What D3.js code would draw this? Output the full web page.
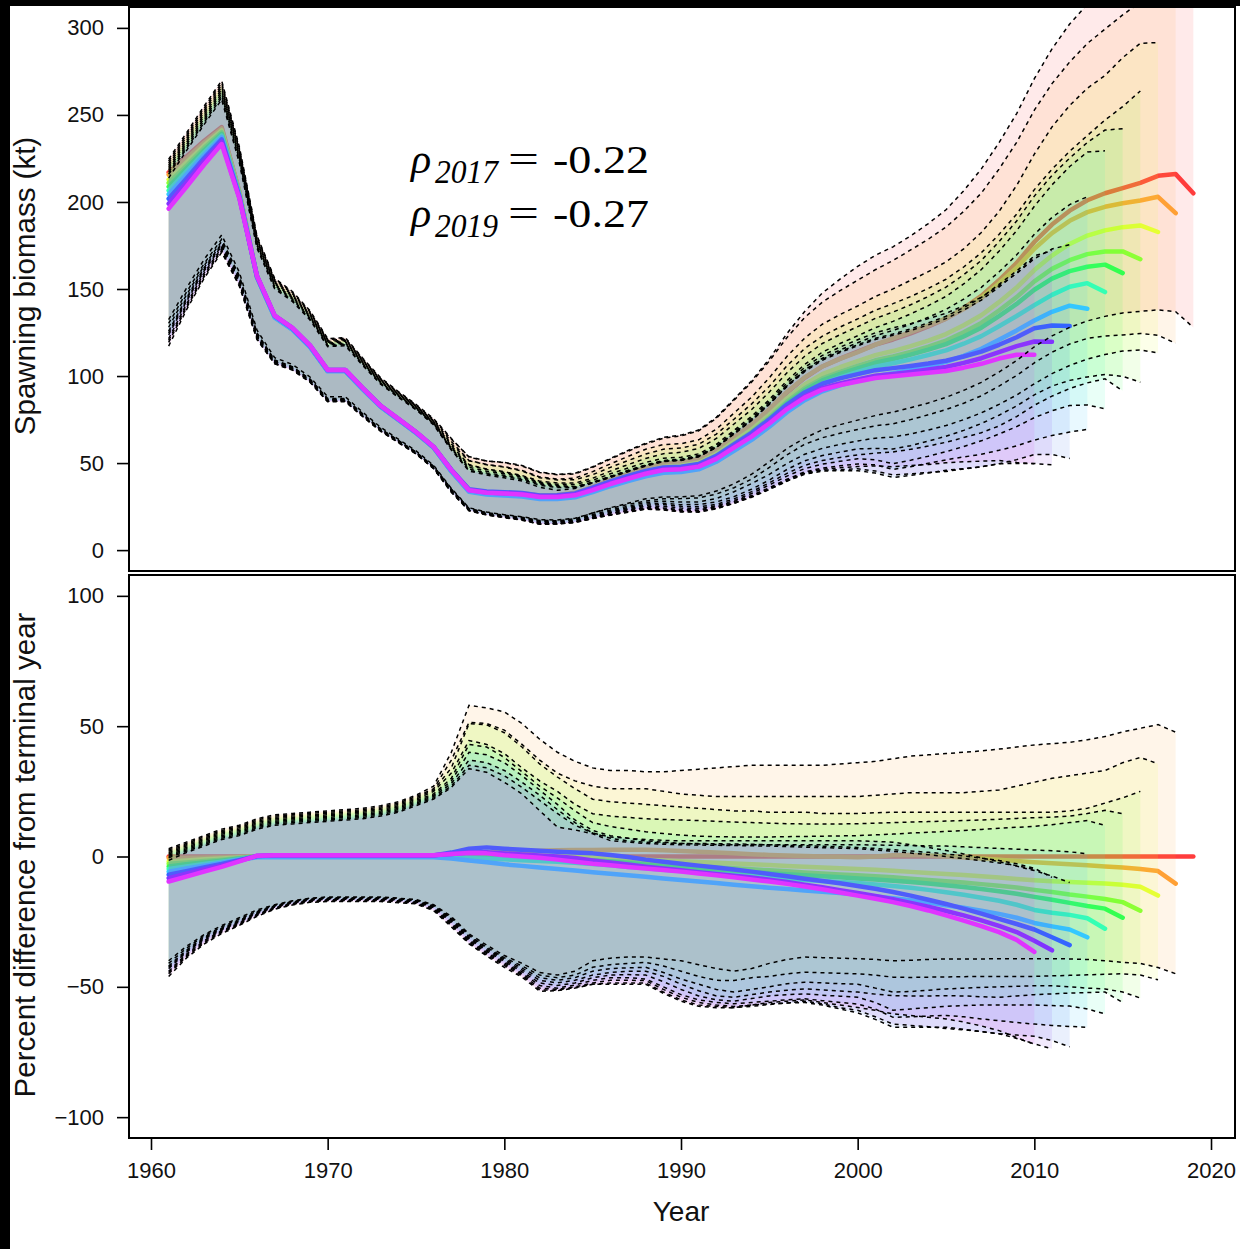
<!DOCTYPE html>
<html><head><meta charset="utf-8">
<script src="https://cdn.jsdelivr.net/npm/d3@7"></script>
<style>body{margin:0;background:#fff;} svg{display:block;}</style>
</head><body><svg id="c" width="1240" height="1249"></svg>
<script>
// ---------------- DATA ----------------
const startYear = 1961;
const xTicks = [1960, 1970, 1980, 1990, 2000, 2010, 2020];
const yTicksTop = [0, 50, 100, 150, 200, 250, 300];
const yTicksBottom = [-100, -50, 0, 50, 100];
const peelYears = [2019, 2018, 2017, 2016, 2015, 2014, 2013, 2012, 2011, 2010];
const peelColors = ["#FF3C3C","#FFA034","#E6FF34","#8CFF34","#34FF50","#34FFB4","#34C8FF","#3464FF","#8034FF","#E034FF"];
const peelFills  = ["#FF3C3C","#FFA034","#E6FF34","#8CFF34","#34FF50","#34FFB4","#34C8FF","#3C78F0","#8C3CF0","#E03CF0"];
const rhoYears = ["2017", "2019"];
const rhoValues = ["-0.22", "-0.27"];

// terminal-year (2019) spawning biomass, kt, 1961-2019
const terminalSB = [217,226,235,243,206,157,134,127,117,103,103,92.5,82.5,75,67.5,59,45.5,34,32.6,32.3,32,30.7,30.9,32.1,35.5,39.3,42.7,46,48.5,49.3,51.3,56.5,64,71.5,80.5,90.5,99,105.5,110,114,118,121,124.5,128.5,133,139,146,155,165,177,187,195,201,205,208,211,215,216,205];

// peel estimates, % difference from terminal year, from 1961
const est2018 = [-0.6,-0.5,-0.4,-0.3,-0.1,0, 0.2,0.2,0.2,0.2,0.2,0.2,0.2,0.2,0.2,0.2, 0.6,1.0,1.4,1.8,2.0,2.2,2.4,2.5,2.5,2.6,2.6,2.6,2.4,2.1, 1.8,1.5,1.2,0.9,0.6,0.4,0.2,0,-0.1,-0.3, 0,0.5,0.6,0.4,0,-0.4,-0.8,-1.2,-1.7,-2.2, -2.6,-3.0,-3.4,-3.8,-4.2,-4.8,-5.6,-10.4];
const est2017 = [-1.9,-1.5,-1.1,-0.8,-0.4,0, 0.1,0.1,0.1,0.1,0.1,0.1,0.1,0.1,0.1,0.1, 0.3,0.5,0.6,0.6,0.5,0.4,0.2,0,-0.3,-0.6,-0.9,-1.2,-1.5,-1.8, -2.1,-2.4,-2.7,-3.0,-3.3,-3.6,-3.9,-4.2,-4.5,-4.8, -5.1,-5.5,-5.9,-6.3,-6.7,-7.1,-7.6,-8.1,-8.6,-9.1, -9.5,-9.8,-10.1,-10.4,-10.8,-11.6,-15];
const est2016 = [-2.8,-2.3,-1.7,-1.2,-0.6,0, 0.1,0.1,0.1,0.1,0.1,0.1,0.1,0.1,0.1,0.1, 0.1,0,-0.2,-0.4,-0.6,-0.8,-1.0,-1.2,-1.5,-1.8,-2.1,-2.5,-2.9,-3.3, -3.7,-4.1,-4.5,-4.9,-5.3,-5.7,-6.1,-6.5,-6.9,-7.2, -7.6,-8.0,-8.5,-9.0,-9.5,-10.0,-10.6,-11.2,-11.9,-12.8, -13.6,-14.6,-15.4,-16.3,-17.5,-20.8];
const est2015 = [-3.8,-3.0,-2.3,-1.6,-0.8,0, 0,0,0,0,0,0,0,0,0,0, 0,-0.2,-0.4,-0.5,-0.7,-0.9,-1.1,-1.2,-1.4,-1.9,-2.5,-3.2,-3.8,-4.3, -4.8,-5.3,-5.7,-6.1,-6.4,-6.8,-7.2,-7.6,-8.0,-8.4, -8.8,-9.3,-9.8,-10.4,-11.0,-11.7,-12.5,-13.3,-14.3,-15.5, -16.6,-17.8,-19.0,-20.0,-23.5];
const est2014 = [-4.8,-3.8,-2.9,-2.0,-1.0,0, 0,0,0,0,0,0,0,0,0,0, -0.3,-0.6,-0.9,-1.1,-1.4,-1.7,-2.0,-2.4,-2.9,-3.4,-4.0,-4.5,-5.1,-5.6, -6.1,-6.6,-7.1,-7.6,-8.2,-8.6,-9.0,-9.4,-9.8,-10.2, -10.7,-11.3,-12.0,-12.8,-13.7,-14.7,-15.8,-17.0,-18.5,-20.5, -21.6,-22.4,-23.7,-27.7];
const est2013 = [-5.8,-4.6,-3.5,-2.4,-1.2,-0.3, -0.3,-0.3,-0.3,-0.3,-0.3,-0.3,-0.3,-0.3,-0.3,-0.3, -0.8,-1.5,-2.2,-3.0,-3.6,-4.2,-4.8,-5.4,-6.0,-6.6,-7.2,-7.8,-8.4,-9.0, -9.6,-10.2,-10.8,-11.4,-12.0,-12.5,-13.0,-13.5,-14.0,-14.6, -15.3,-16.0,-16.8,-17.7,-18.7,-19.7,-20.8,-22.0,-23.5,-25.5, -26.8,-28.0,-31.0];
const est2012 = [-7.0,-5.6,-4.2,-2.9,-1.4,0.2, 0.4,0.4,0.4,0.4,0.4,0.4,0.4,0.4,0.4,0.4, 1.5,3.0,3.5,3.0,2.6,2.2,1.8,1.5,1.2,0.6,-0.2,-1.2,-2.0,-2.8, -3.5,-4.2,-5.0,-5.8,-6.7,-7.6,-8.5,-9.4,-10.3,-11.3, -12.4,-13.6,-15.0,-16.6,-18.2,-20.0,-21.9,-23.9,-25.9,-28.0, -31.0,-34.0];
const est2011 = [-8.3,-6.6,-5.0,-3.5,-1.7,0.2, 0.5,0.5,0.5,0.5,0.5,0.5,0.5,0.5,0.5,0.5, 1.0,1.5,1.6,1.2,0.8,0.4,0,-0.6,-1.5,-2.3,-3.1,-3.9,-4.6,-5.3, -6.0,-6.7,-7.4,-8.1,-8.9,-9.8,-10.8,-11.8,-12.9,-14.0, -15.1,-16.4,-17.8,-19.3,-20.9,-22.6,-24.5,-26.6,-29.0,-32.3, -36.0];
const est2010 = [-9.6,-7.7,-5.8,-4.0,-1.9,0.3, 0.5,0.5,0.5,0.5,0.5,0.5,0.5,0.5,0.5,0.5, 1.0,1.3,1.2,0.5,0,-0.5,-1.2,-2.0,-2.8,-3.4,-4.0,-4.6,-5.2,-5.8, -6.5,-7.2,-8.0,-8.8,-9.6,-10.5,-11.5,-12.6,-13.8,-15.0, -16.2,-17.5,-19.0,-20.7,-22.6,-24.6,-26.7,-29.0,-32.0,-36.6];

// upper interval bounds, % of terminal-year estimate
const hi2019 = [3.5,6,8.5,11,12.5,15,16.5,17,17.5,18,18.5,19,20,21.5,24,28, 41,57,57,56,52,46,41,37.5,35,34,34,33.5,33.5,34, 34.5,35,35.5,36,36.5,37.5,38.5,40,41.5,43, 43.5,44,45,46,47,48.5,50,51,52,53, 54,55,56,57,58,59,60,61,62];
const hi2018 = [3,5.5,8,10.5,12,14.5,16,16.5,17,17.5,18,18.5,19.5,21,23.5,27, 40,58,57,55.5,51,45,40,36.5,34,33,33,32.5,32.5,33, 33.5,34,34.5,35,35,35,35,35,35.5,36, 36.5,37.5,38.5,39,39.5,40,40.5,41.2,42,42.8, 43.3,43.8,44.8,46,47.8,49.2,50.6,47.7];
const hi2017 = [2.5,5,7.5,10,11.5,14,15.5,16,16.5,17,17.5,18,19,20.5,23,26, 37,51.5,51,48.5,43,37,32,29,27,26,26,26,25,24, 23.5,23,23,23,23,23,23,23,23,23, 23.5,24,24.5,24.5,24.5,24.5,25,25.5,27,28.5, 30,31,32,33,36,38,35.6];
const hi2016 = [2,4.5,7,9.5,11,13.5,15,15.5,16,16.5,17,17.5,18.5,20,22.5,25.5, 34,51,50.5,47.5,42,35.5,30.5,26,22,21,20.5,20,19.5,19, 18.5,18,17.5,17.5,17,17,17,16.5,16.5,16.5, 16.8,17,17,17,17,17,17,17,17,17, 17,17.5,18.5,20.5,22.5,25];
const hi2015 = [1.5,4,6.5,9,10.5,13,14.5,15,15.5,16,16.5,17,18,19.5,22,25, 32,44.5,43,39.5,34,29,25,20,16.4,15.5,15,14.5,14.2,14, 13.8,13.5,13.2,13,12.8,12.6,12.5,12.5,12.5,12.6, 12.8,13,13.2,13.4,13.6,13.8,14,14.3,14.6,14.9, 15.1,15.5,16.5,17.7,16.4];
const hi2014 = [1,3.5,6,8.5,10,12.5,14,14.5,15,15.5,16,16.5,17.5,19,21.5,24, 30,43,42,38,32.5,27,22.5,17.5,13,11.5,10.5,9.5,8.8,8.2, 7.8,7.6,7.5,7.5,7.5,7.6,7.7,7.8,7.9,8, 8.3,8.6,9,9.3,9.6,10,10.4,10.8,11.2,11.6, 12.2,13,13.8,11.9];
const hi2013 = [0.5,3,5.5,8,9.5,12,13.5,14,14.5,15,15.5,16,17,18.5,21,23.5, 29,40,39,36,31,25.5,20,14,10,8,7,6,5.5,5, 4.8,4.6,4.5,4.5,4.5,4.5,4.5,4.5,4.5,4.5, 4.4,4.3,4.2,4.1,4,3.7,3.4,3.1,2.8,2.5, 2.2,1.8,1];
const hi2012 = [0,2.5,5,7.5,9,11.5,13,13.5,14,14.5,15,15.5,16.5,18,20.5,23, 28,37,36,33,28.5,23.5,18,13,9,7.5,7,6.5,6.2,6, 6,6,6,6,6,6,6,6,6,6, 5.8,5.5,4.5,3.5,2.3,1,-0.5,-2,-3.7,-5.4, -7.5,-10];
const hi2011 = [-0.5,2,4.5,7,8.5,11,12.5,13,13.5,14,14.5,15,16,17.5,20,22.5, 27,35,34,31,26.5,21.5,16.5,12,9,7,6,5.5,5.2,5, 5,4.9,4.8,4.7,4.5,4.3,4.1,3.9,3.7,3.5, 3.1,2.6,2.1,1.6,1,0.2,-0.6,-1.5,-2.8,-4.5, -8];
const hi2010 = [-1.5,1.5,4,6.5,8,10.5,12,12.5,13,13.5,14,14.5,15.5,17,19.5,22, 26.5,33.7,32.3,28.5,24,17.6,11.3,10.2,8.7,6.1,5.5,5,4.7,4.5, 4.4,4.3,4.2,4.1,4,3.8,3.6,3.4,3.2,3, 2.5,2,1.3,0.7,0,-0.8,-1.6,-2.5,-3.5,-5];

// lower interval bounds, % of terminal-year estimate
const lo2019 = [-39,-33.5,-29,-25.5,-22.5,-19.5,-17.5,-16,-15,-14.5,-14.5,-14.5,-14.5,-15,-15.5,-17.5, -22,-28.5,-33,-37,-40,-43,-44,-43,-40,-38,-37,-36,-37,-38, -39,-40,-40.5,-39,-37,-35.5,-35,-34.5,-34.5,-34.5, -34.5,-34.5,-34.3,-34.2,-34,-34,-34,-34,-34,-34, -34.2,-34.4,-34.5,-34.5,-34.5,-35,-35.8,-36.6,-37.6];
const lo2018 = [-40,-34.5,-30,-26.5,-23.5,-20.5,-18.5,-17,-16,-15.5,-15.5,-15.5,-15.5,-16,-16.5,-18.5, -23,-29.7,-34,-38,-41,-44.5,-45.5,-44,-40,-39,-38.6,-38.6,-39.3,-40, -41.5,-43,-44,-43,-41,-39.5,-38.6,-38.8,-39,-39.2, -39.5,-40,-39.8,-39.5,-39.3,-39.3,-39.3,-39.2,-39.2,-39.2, -39.2,-39.3,-39.5,-40,-40.6,-41,-42.6,-45];
const lo2017 = [-41,-35.2,-30.5,-27,-24,-21,-18.8,-17.2,-16.2,-15.8,-15.8,-15.8,-15.8,-16.2,-16.8,-18.8, -23.5,-30.2,-34.8,-38.8,-42,-45.5,-46.5,-45.5,-42.5,-41.5,-41,-40.6,-42,-44, -46,-47.5,-47.6,-46.5,-46,-45,-44.4,-44.6,-44.8,-45, -45.5,-46.3,-46.4,-46.3,-46.2,-46.1,-46,-46,-46,-46, -45.8,-45.6,-45.4,-45.2,-45,-45.5,-47.3];
const lo2016 = [-42,-36,-31,-27.5,-24.5,-21.3,-19,-17.4,-16.4,-16,-16,-16,-16,-16.4,-17,-19, -24,-30.7,-35.3,-39.3,-42.8,-46.5,-47.5,-46.5,-44,-43,-42.7,-42.5,-44.5,-47, -49,-51,-52,-51,-50,-48.8,-48.2,-48.5,-48.8,-49, -50.5,-52,-51.8,-51.3,-50.8,-50.5,-50.2,-50,-49.8,-49.6, -49.6,-50,-50.5,-50.8,-52,-54.3];
const lo2015 = [-42.5,-36.4,-31.4,-27.8,-24.8,-21.6,-19.2,-17.6,-16.6,-16.2,-16.2,-16.2,-16.2,-16.6,-17.2,-19.3, -24.5,-31.2,-35.8,-39.8,-43.5,-47.5,-48.5,-47.5,-45.5,-44.5,-44,-44,-46,-49, -51.5,-53.5,-54,-53,-52,-51.3,-50.8,-51.2,-51.6,-52, -52.8,-53.4,-53.5,-53.5,-53.4,-53.5,-53.8,-54,-53.5,-53, -52.7,-52.4,-52.2,-52,-56];
const lo2014 = [-43,-36.8,-31.8,-28.1,-25.1,-21.9,-19.4,-17.8,-16.8,-16.4,-16.4,-16.4,-16.4,-16.8,-17.4,-19.6, -25,-31.7,-36.3,-40.3,-44.2,-48.5,-49.5,-48.5,-46.5,-45.5,-45.3,-45.5,-48,-51, -53.5,-55,-55.5,-54.5,-53.5,-53,-52.7,-53.2,-53.6,-54, -56,-59,-58.5,-58,-57.5,-57.2,-57,-57,-57,-57, -57.2,-57.4,-58.5,-60.4];
const lo2013 = [-44,-37.5,-32.3,-28.5,-25.5,-22.2,-19.6,-18,-17,-16.6,-16.6,-16.6,-16.6,-17,-17.6,-19.9, -25.5,-32.2,-36.8,-40.8,-44.8,-49.5,-50.5,-49.3,-47.5,-46.5,-46.5,-47,-50,-53, -55,-56,-56.5,-56,-55.5,-55,-54.6,-55.3,-56,-56.6, -58.5,-61.7,-61.5,-61.2,-61,-61.5,-62.3,-63,-63.7,-64.3, -64.8,-65.2,-65.5];
const lo2012 = [-44.5,-38,-32.8,-28.8,-25.8,-22.4,-19.8,-18.2,-17.2,-16.8,-16.8,-16.8,-16.8,-17.2,-17.8,-20.2, -26,-32.7,-37.3,-41.3,-45.3,-50.5,-51,-50,-48.5,-47.5,-47.5,-47.6,-51,-54, -56,-57,-57.5,-57,-56.5,-56.2,-56,-57,-58.5,-60, -62.5,-65.5,-65.5,-65.5,-65.5,-66.3,-67.2,-68,-68.5,-69, -70.6,-73];
const lo2011 = [-45,-38.5,-33.2,-29.2,-26.1,-22.7,-20,-18.4,-17.4,-17,-17,-17,-17,-17.4,-18,-20.5, -26.5,-33.2,-37.8,-41.8,-45.8,-51.2,-51.3,-50.3,-49,-48.5,-48.5,-48.5,-52,-55, -57,-57.5,-58,-57.5,-56.8,-56.2,-55.5,-56.5,-58,-59, -61.5,-64.3,-64.8,-65.3,-66,-66.5,-67.2,-68,-69.8,-71.9, -73.8];
const lo2010 = [-46,-39,-33.6,-29.6,-26.4,-23,-20.2,-18.6,-17.6,-17.3,-17.3,-17.3,-17.3,-17.7,-18.2,-20.8, -27,-33.5,-38.2,-42.5,-46.3,-51.7,-51.5,-50.5,-49,-49,-49,-49,-52.5,-55.5, -57.5,-58,-58,-57,-56,-55.5,-55,-56,-57,-57.9, -59,-60.4,-61,-61.7,-62.3,-63.5,-65,-66.8,-69.5,-72];

// ---------------- BUILD ----------------
const estP = {2018:est2018,2017:est2017,2016:est2016,2015:est2015,2014:est2014,2013:est2013,2012:est2012,2011:est2011,2010:est2010};
const hiP = {2019:hi2019,2018:hi2018,2017:hi2017,2016:hi2016,2015:hi2015,2014:hi2014,2013:hi2013,2012:hi2012,2011:hi2011,2010:hi2010};
const loP = {2019:lo2019,2018:lo2018,2017:lo2017,2016:lo2016,2015:lo2015,2014:lo2014,2013:lo2013,2012:lo2012,2011:lo2011,2010:lo2010};

const peels = peelYears.map((py, k) => {
  const n = py - startYear + 1;
  const rows = d3.range(n).map(i => {
    const t = terminalSB[i];
    const e = py === 2019 ? 0 : estP[py][i];
    return {year: startYear + i, est: t * (1 + e / 100), lo: t * (1 + loP[py][i] / 100), hi: t * (1 + hiP[py][i] / 100),
            estPct: e, loPct: loP[py][i], hiPct: hiP[py][i]};
  });
  return {py, color: peelColors[k], fill: peelFills[k], rows};
});

const svg = d3.select("#c");
const W = 1240, H = 1249;
svg.append("rect").attr("width", W).attr("height", H).attr("fill", "#fff");
svg.append("rect").attr("x", 0).attr("y", 0).attr("width", W).attr("height", 6).attr("fill", "#000");
svg.append("rect").attr("x", 0).attr("y", 0).attr("width", 10).attr("height", H).attr("fill", "#000");

const L = 129, R = 1235;
const topT = 7, topB = 571, botT = 575, botB = 1138;
const x = d3.scaleLinear().domain([1958.755, 2021.358]).range([L, R]);
const yTop = d3.scaleLinear().domain([-12, 312]).range([topB, topT]);
const yBot = d3.scaleLinear().domain([-108, 108]).range([botB, botT]);

const defs = svg.append("defs");
defs.append("clipPath").attr("id", "clipTop").append("rect").attr("x", L).attr("y", topT).attr("width", R - L).attr("height", topB - topT);
defs.append("clipPath").attr("id", "clipBot").append("rect").attr("x", L).attr("y", botT).attr("width", R - L).attr("height", botB - botT);

const FILL_OP = 0.11;
const DASH = "4,4";

// ---- top panel ----
const gTop = svg.append("g").attr("clip-path", "url(#clipTop)");
peels.forEach(p => {
  gTop.append("path").datum(p.rows)
    .attr("d", d3.area().x(d => x(d.year)).y0(d => yTop(d.lo)).y1(d => yTop(d.hi)))
    .attr("fill", p.fill).attr("fill-opacity", FILL_OP);
  gTop.append("path").datum(p.rows)
    .attr("d", d3.line().x(d => x(d.year)).y(d => yTop(d.est)))
    .attr("fill", "none").attr("stroke", p.color).attr("stroke-width", 4.5)
    .attr("stroke-linejoin", "round").attr("stroke-linecap", "round");
});
peels.forEach(p => {
  ["lo", "hi"].forEach(k => {
    gTop.append("path").datum(p.rows)
      .attr("d", d3.line().x(d => x(d.year)).y(d => yTop(d[k])))
      .attr("fill", "none").attr("stroke", "#000").attr("stroke-width", 1.5).attr("stroke-dasharray", DASH);
  });
});

// ---- bottom panel ----
const gBot = svg.append("g").attr("clip-path", "url(#clipBot)");
peels.forEach(p => {
  if (p.py !== 2019) {
    gBot.append("path").datum(p.rows)
      .attr("d", d3.area().x(d => x(d.year)).y0(d => yBot(d.loPct)).y1(d => yBot(d.hiPct)))
      .attr("fill", p.fill).attr("fill-opacity", FILL_OP);
  }
  gBot.append("path").datum(p.rows)
    .attr("d", d3.line().x(d => x(d.year)).y(d => yBot(d.estPct)))
    .attr("fill", "none").attr("stroke", p.color).attr("stroke-width", 4.5)
    .attr("stroke-linejoin", "round").attr("stroke-linecap", "round");
});
peels.filter(p => p.py !== 2019).forEach(p => {
  ["loPct", "hiPct"].forEach(k => {
    gBot.append("path").datum(p.rows)
      .attr("d", d3.line().x(d => x(d.year)).y(d => yBot(d[k])))
      .attr("fill", "none").attr("stroke", "#000").attr("stroke-width", 1.5).attr("stroke-dasharray", DASH);
  });
});

// ---- frames ----
svg.append("rect").attr("x", L).attr("y", topT).attr("width", R - L).attr("height", topB - topT)
  .attr("fill", "none").attr("stroke", "#000").attr("stroke-width", 2);
svg.append("rect").attr("x", L).attr("y", botT).attr("width", R - L).attr("height", botB - botT)
  .attr("fill", "none").attr("stroke", "#000").attr("stroke-width", 2);

// ---- axes ----
const FONT = "'Liberation Sans', Arial, sans-serif";
function styleAxis(g) {
  g.select(".domain").remove();
  g.selectAll(".tick line").attr("stroke", "#000").attr("stroke-width", 1.6);
  g.selectAll(".tick text").attr("fill", "#111").attr("font-size", 22).attr("font-family", FONT);
}
svg.append("g").attr("transform", `translate(${L},0)`)
  .call(d3.axisLeft(yTop).tickValues(yTicksTop).tickSize(12).tickPadding(13).tickFormat(d3.format("d")))
  .call(styleAxis);
svg.append("g").attr("transform", `translate(${L},0)`)
  .call(d3.axisLeft(yBot).tickValues(yTicksBottom).tickSize(12).tickPadding(13).tickFormat(d3.format("d")))
  .call(styleAxis);
svg.append("g").attr("transform", `translate(0,${botB})`)
  .call(d3.axisBottom(x).tickValues(xTicks).tickSize(12).tickPadding(12).tickFormat(d3.format("d")))
  .call(styleAxis);

// ---- titles ----
svg.append("text").attr("transform", "translate(35,286) rotate(-90)").attr("text-anchor", "middle")
  .attr("font-family", FONT).attr("font-size", 29.5).attr("fill", "#111").text("Spawning biomass (kt)");
svg.append("text").attr("transform", "translate(35,855) rotate(-90)").attr("text-anchor", "middle")
  .attr("font-family", FONT).attr("font-size", 29.5).attr("fill", "#111").text("Percent difference from terminal year");
svg.append("text").attr("x", 681).attr("y", 1221).attr("text-anchor", "middle")
  .attr("font-family", FONT).attr("font-size", 28).attr("fill", "#111").text("Year");

// ---- rho annotation ----
const SERIF = "'Liberation Serif', 'Times New Roman', serif";
rhoYears.forEach((yr, i) => {
  const base = 173 + i * 54;
  const g = svg.append("g").attr("font-family", SERIF).attr("fill", "#000");
  g.append("text").attr("x", 411).attr("y", base).attr("font-size", 42).attr("font-style", "italic").text("ρ");
  g.append("text").attr("x", 435).attr("y", base + 10).attr("font-size", 34).attr("font-style", "italic")
    .attr("textLength", 63).attr("lengthAdjust", "spacingAndGlyphs").text(yr);
  g.append("text").attr("x", 508).attr("y", base).attr("font-size", 40)
    .attr("textLength", 31).attr("lengthAdjust", "spacingAndGlyphs").text("=");
  g.append("text").attr("x", 553).attr("y", base).attr("font-size", 40)
    .attr("textLength", 96).attr("lengthAdjust", "spacingAndGlyphs").text(rhoValues[i]);
});
</script>
</body></html>
